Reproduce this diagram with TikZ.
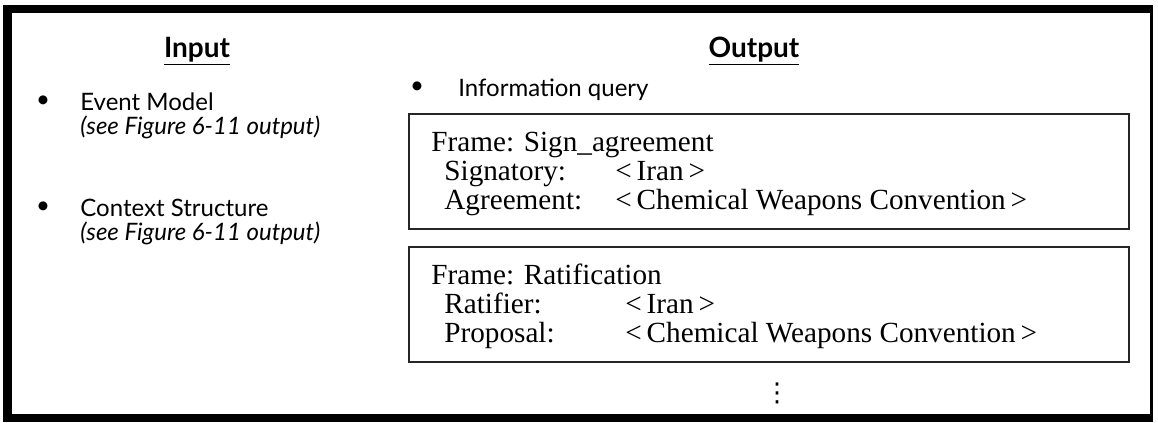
\documentclass[tikz,border=0pt]{standalone}
\usepackage{fontspec}
\setmainfont{Liberation Serif}
\setsansfont{Lato}
\newfontfamily\symfont{DejaVu Sans}
\usetikzlibrary{positioning}
\tikzset{
  frame edge/.style={fill=black},
  frame box/.style={draw=black!85, line width=1.1pt, minimum width=360pt,
    minimum height=57.5pt, inner sep=0pt, anchor=north west},
  slot text/.style={anchor=base west, inner sep=0pt,
    font=\fontsize{14.6}{17}\selectfont},
  side text/.style={anchor=base west, inner sep=0pt,
    font=\sffamily\fontsize{12}{14}\selectfont},
  side note/.style={anchor=base west, inner sep=0pt,
    font=\sffamily\itshape\fontsize{12}{14}\selectfont},
  side bullet/.style={inner sep=0pt, font=\sffamily\fontsize{12}{14}\selectfont},
  head text/.style={anchor=base, inner sep=0pt,
    font=\sffamily\bfseries\fontsize{14}{16}\selectfont},
}
\begin{document}
\begin{tikzpicture}[x=0.5pt,y=-0.5pt]
  \useasboundingbox (0,0) rectangle (1158,423);
  % outer frame
  \fill[frame edge] (3,5) rectangle (1153,13);
  \fill[frame edge] (3,414) rectangle (1153,422);
  \fill[frame edge] (3,5) rectangle (12,422);
  \fill[frame edge] (1150,5) rectangle (1153,422);

  % headings
  \node[head text] (inhead) at (197,57) {\underline{Input}};
  \node[head text] (outhead) at (754,57) {\underline{Output}};

  % input list
  \node[side bullet] (b1) at (43,102) {\textbullet};
  \node[side text] (event) at (80,110) {Event Model};
  \node[side note] (eventnote) at (80,134) {(see Figure 6-11 output)};
  \node[side bullet] (b2) at (43,208) {\textbullet};
  \node[side text] (context) at (80,216) {Context Structure};
  \node[side note] (contextnote) at (80,240) {(see Figure 6-11 output)};

  % output list
  \node[side bullet] (b3) at (417,88) {\textbullet};
  \node[side text] (query) at (458,96) {Information query};

  % frame: sign agreement
  \node[frame box] (sign) at (408,113) {};
  \node[slot text] (signname) at (431,151) {Frame: Sign\_agreement};
  \node[slot text] (signrole1) at (444,180) {Signatory:};
  \node[slot text] (signval1) at (615,180) {<\,Iran\,>};
  \node[slot text] (signrole2) at (444,209) {Agreement:};
  \node[slot text] (signval2) at (615,209) {<\,Chemical Weapons Convention\,>};

  % frame: ratification
  \node[frame box] (ratify) at (408,246) {};
  \node[slot text] (ratname) at (431,284) {Frame: Ratification};
  \node[slot text] (ratrole1) at (444,313) {Ratifier:};
  \node[slot text] (ratval1) at (625,313) {<\,Iran\,>};
  \node[slot text] (ratrole2) at (444,342) {Proposal:};
  \node[slot text] (ratval2) at (625,342) {<\,Chemical Weapons Convention\,>};

  \node[inner sep=0pt, font=\symfont\fontsize{13}{15}\selectfont] (more) at (777,393) {⋮};
\end{tikzpicture}
\end{document}
